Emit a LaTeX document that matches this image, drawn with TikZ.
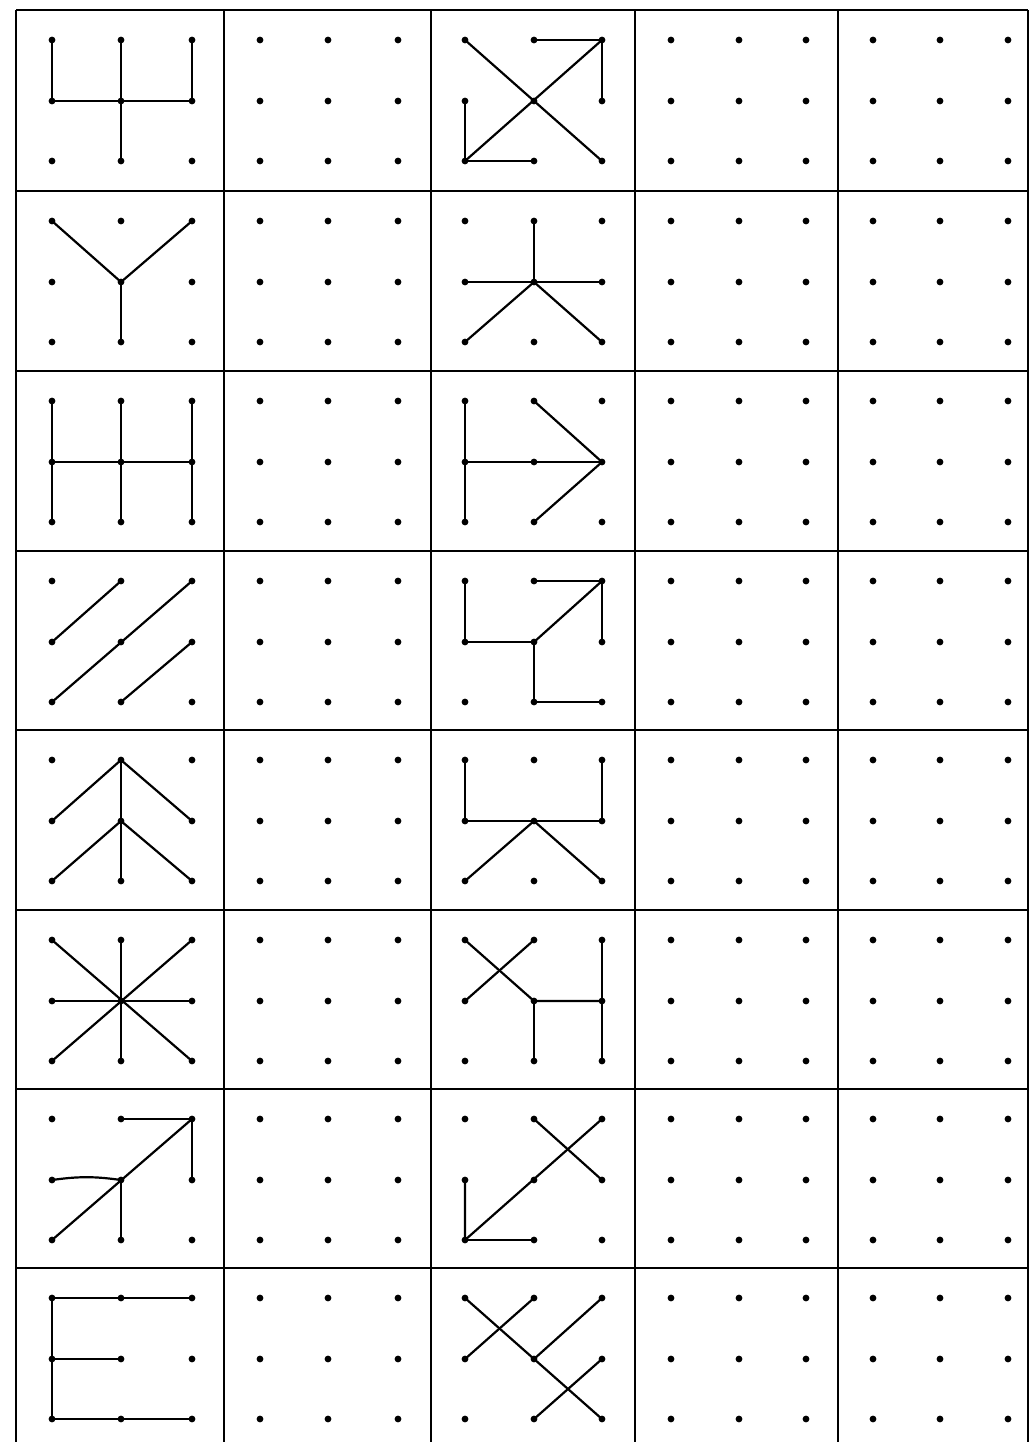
\documentclass[tikz,border=0pt]{standalone}
\begin{document}
\begin{tikzpicture}[x=0.5pt,y=-0.5pt,
  gridline/.style={line width=0.8pt,black},
  figline/.style={line width=1.1pt,black,line cap=round,line join=round},
  dotmark/.style={fill=black}]
\useasboundingbox (0,0) rectangle (1030,1442);
\clip (0,0) rectangle (1030,1442);
% grid
\foreach \yy in {10,191,371,551,730,910,1089,1268}
  \draw[gridline] (16,\yy) -- (1028,\yy);
\foreach \xx in {16,224,431,635,838,1028}
  \draw[gridline] (\xx,10) -- (\xx,1442);
% dots
\foreach \r/\yt in {1/10,2/191,3/371,4/551,5/730,6/910,7/1089,8/1268} {
  \foreach \c/\xa/\xb/\xc in {1/52/121/192,2/260/328/398,3/465/534/602,4/671/739/806,5/873/940/1008} {
    \foreach \i/\xx in {0/\xa,1/\xb,2/\xc} {
      \foreach \j/\dy in {0/30,1/91,2/151} {
        \coordinate (p\r-\c-\i\j) at (\xx,\yt+\dy);
        \fill[dotmark] (p\r-\c-\i\j) circle[radius=1.7pt];
      }
    }
  }
}
% row 1
\draw[figline] (p1-1-00) -- (p1-1-01) -- (p1-1-21) -- (p1-1-20);
\draw[figline] (p1-1-10) -- (p1-1-12);
\draw[figline] (p1-3-00) -- (p1-3-22);
\draw[figline] (p1-3-10) -- (p1-3-20) -- (p1-3-21);
\draw[figline] (p1-3-20) -- (p1-3-02);
\draw[figline] (p1-3-01) -- (p1-3-02) -- (p1-3-12);
% row 2
\draw[figline] (p2-1-00) -- (p2-1-11) -- (p2-1-20);
\draw[figline] (p2-1-11) -- (p2-1-12);
\draw[figline] (p2-3-10) -- (p2-3-11);
\draw[figline] (p2-3-01) -- (p2-3-21);
\draw[figline] (p2-3-02) -- (p2-3-11) -- (p2-3-22);
% row 3
\draw[figline] (p3-1-00) -- (p3-1-02);
\draw[figline] (p3-1-10) -- (p3-1-12);
\draw[figline] (p3-1-20) -- (p3-1-22);
\draw[figline] (p3-1-01) -- (p3-1-21);
\draw[figline] (p3-3-00) -- (p3-3-02);
\draw[figline] (p3-3-01) -- (p3-3-21);
\draw[figline] (p3-3-10) -- (p3-3-21) -- (p3-3-12);
% row 4
\draw[figline] (p4-1-10) -- (p4-1-01);
\draw[figline] (p4-1-20) -- (p4-1-02);
\draw[figline] (p4-1-21) -- (p4-1-12);
\draw[figline] (p4-3-00) -- (p4-3-01) -- (p4-3-11) -- (p4-3-12) -- (p4-3-22);
\draw[figline] (p4-3-10) -- (p4-3-20) -- (p4-3-21);
\draw[figline] (p4-3-20) -- (p4-3-11);
% row 5
\draw[figline] (p5-1-01) -- (p5-1-10) -- (p5-1-21);
\draw[figline] (p5-1-02) -- (p5-1-11) -- (p5-1-22);
\draw[figline] (p5-1-10) -- (p5-1-12);
\draw[figline] (p5-3-00) -- (p5-3-01) -- (p5-3-21) -- (p5-3-20);
\draw[figline] (p5-3-02) -- (p5-3-11) -- (p5-3-22);
% row 6
\draw[figline] (p6-1-00) -- (p6-1-22);
\draw[figline] (p6-1-20) -- (p6-1-02);
\draw[figline] (p6-1-10) -- (p6-1-12);
\draw[figline] (p6-1-01) -- (p6-1-21);
\draw[figline] (p6-3-00) -- (p6-3-11) -- (p6-3-21);
\draw[figline] (p6-3-11) -- (p6-3-12);
\draw[figline] (p6-3-10) -- (p6-3-01);
\draw[figline] (p6-3-20) -- (p6-3-22);
% row 7
\draw[figline] (p7-1-01) to[bend left=8] (p7-1-11);
\draw[figline] (p7-1-02) -- (p7-1-20);
\draw[figline] (p7-1-10) -- (p7-1-20) -- (p7-1-21);
\draw[figline] (p7-1-11) -- (p7-1-12);
\draw[figline] (p7-3-10) -- (p7-3-21);
\draw[figline] (p7-3-20) -- (p7-3-02) -- (p7-3-01);
\draw[figline] (p7-3-02) -- (p7-3-12);
% row 8
\draw[figline] (p8-1-20) -- (p8-1-00) -- (p8-1-02) -- (p8-1-22);
\draw[figline] (p8-1-01) -- (p8-1-11);
\draw[figline] (p8-3-00) -- (p8-3-22);
\draw[figline] (p8-3-10) -- (p8-3-01);
\draw[figline] (p8-3-20) -- (p8-3-11);
\draw[figline] (p8-3-21) -- (p8-3-12);
\end{tikzpicture}
\end{document}
